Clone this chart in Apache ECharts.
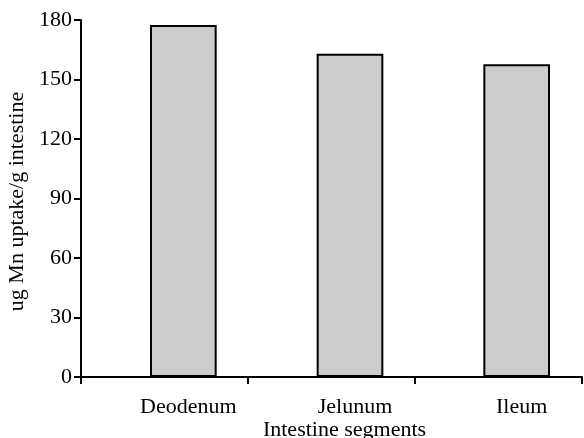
<!DOCTYPE html>
<html><head><meta charset="utf-8">
<script src="https://cdn.jsdelivr.net/npm/echarts@6/dist/echarts.min.js"></script>
<style>html,body{margin:0;padding:0;background:#fff}#c{width:584px;height:438px}</style>
</head><body><div id="c"></div>
<script>
var categories = ['Deodenum', 'Jelunum', 'Ileum'];
var uptake = [177.5, 163, 157.7];
var yTicks = [0, 30, 60, 90, 120, 150, 180];
var xTitle = 'Intestine segments';
var yTitle = 'ug Mn uptake/g intestine';

var font = 'Liberation Serif, Times New Roman, serif';
var yMin = yTicks[0], yMax = yTicks[yTicks.length - 1];
var chart = echarts.init(document.getElementById('c'), null, {renderer: 'canvas'});
chart.setOption({
  animation: false,
  backgroundColor: '#fff',
  grid: [
    {left: 81, right: 2, top: 20, bottom: 61, containLabel: false, outerBoundsMode: 'none'},
    {left: 100, width: 500, top: 20, bottom: 61, containLabel: false, outerBoundsMode: 'none'}
  ],
  xAxis: [{
    gridIndex: 0,
    type: 'category',
    data: categories.map(function () { return ''; }),
    boundaryGap: true,
    axisLine: {lineStyle: {color: '#000', width: 2}},
    axisTick: {show: true, alignWithLabel: false, length: 7, lineStyle: {color: '#000', width: 2}},
    axisLabel: {show: false},
    name: xTitle,
    nameLocation: 'middle',
    nameGap: 42,
    nameTextStyle: {color: '#000', fontFamily: font, fontSize: 22, padding: [0, 0, 0, 26]}
  }, {
    gridIndex: 1,
    type: 'category',
    data: categories,
    boundaryGap: true,
    axisLine: {show: false},
    axisTick: {show: false},
    axisLabel: {color: '#000', fontFamily: font, fontSize: 22, margin: 19, padding: [0, 0, 0, 10]}
  }],
  yAxis: [{
    gridIndex: 0,
    type: 'value',
    min: yMin,
    max: yMax,
    interval: 30,
    splitLine: {show: false},
    axisLine: {show: true, lineStyle: {color: '#000', width: 2}},
    axisTick: {show: true, length: 7, lineStyle: {color: '#000', width: 2}},
    axisLabel: {color: '#000', fontFamily: font, fontSize: 22, margin: 9},
    name: yTitle,
    nameLocation: 'middle',
    nameGap: 52,
    nameTextStyle: {color: '#000', fontFamily: font, fontSize: 22, padding: [0, 6, 0, 0]}
  }, {
    gridIndex: 1,
    type: 'value',
    min: yMin,
    max: yMax,
    interval: 30,
    show: false,
    splitLine: {show: false}
  }],
  series: [{
    type: 'bar',
    xAxisIndex: 1,
    yAxisIndex: 1,
    data: uptake,
    barWidth: '40%',
    itemStyle: {color: '#cccccc', borderColor: '#000', borderWidth: 2}
  }]
});
</script></body></html>
